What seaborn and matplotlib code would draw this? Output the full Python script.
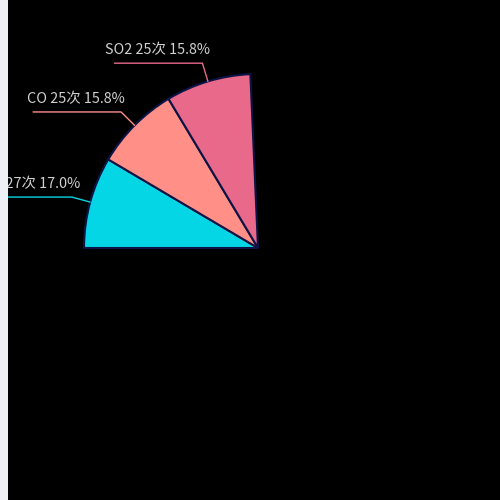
import numpy as np
import matplotlib
matplotlib.use("Agg")
import matplotlib.pyplot as plt
import seaborn as sns

# visible slices (chart caught mid-animation: only the first three drawn)
names = ["NO2", "CO", "SO2"]
counts = [27, 25, 25]
percents = [17.0, 15.8, 15.8]
colors = ["#05d6e6", "#ff8f87", "#e8698a"]

sns.set_theme(style="dark")
plt.rcParams['font.family'] = ['Noto Sans CJK SC', 'DejaVu Sans']

fig = plt.figure(figsize=(5, 5), dpi=100)
fig.patch.set_facecolor("#eef0f7")
ax = fig.add_axes([8 / 500, 0, 492 / 500, 1])
ax.set_facecolor("black")

R = 174
fracs = np.array(percents) / 200.0  # 100% spans a half turn
wedges, _ = ax.pie(fracs, normalize=False, colors=colors, startangle=180,
                   counterclock=False, radius=R, frame=True,
                   wedgeprops=dict(edgecolor="#0b1445", linewidth=1.5))

# labels with leader lines
for w, name, c, p, col in zip(wedges, names, counts, percents, colors):
    mid = np.deg2rad((w.theta1 + w.theta2) / 2)
    x0, y0 = R * np.cos(mid), R * np.sin(mid)
    x1, y1 = (R + 19) * np.cos(mid), (R + 19) * np.sin(mid)
    x2 = x1 - 88
    ax.plot([x0, x1, x2], [y0, y1, y1], color=col, lw=1, clip_on=True)
    ax.text((x1 + x2) / 2 - 1, y1 + 13, f"{name} {c}次 {p:.1f}%", color="#d0d0d0",
            fontsize=10.4, ha="center", va="center", clip_on=True)

ax.set_xlim(8 - 258, 500 - 258)
ax.set_ylim(-(500 - 248), 248)
ax.set_aspect("equal")
ax.set_xticks([])
ax.set_yticks([])
for s in ax.spines.values():
    s.set_visible(False)

fig.savefig("out.png", dpi=100, facecolor=fig.get_facecolor())
